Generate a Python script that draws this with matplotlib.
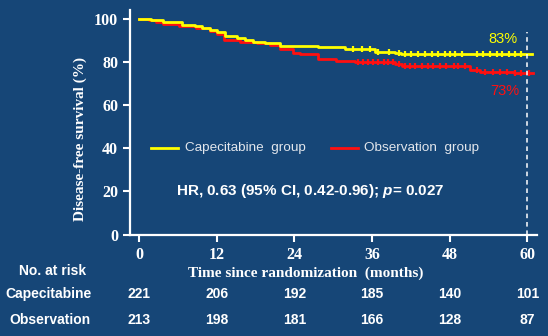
import numpy as np
import matplotlib.pyplot as plt

plt.rcParams['mathtext.fontset'] = 'custom'
plt.rcParams['mathtext.it'] = 'Liberation Sans:bold:italic'
plt.rcParams['mathtext.rm'] = 'Liberation Sans:bold'

# Kaplan-Meier steps (months, % disease-free)
cape_t = [0, 1.9, 3.7, 6.6, 8.6, 9.8, 10.9, 12.0, 13.3, 15.1, 16.3, 17.6, 19.5, 21.8, 27.7, 31.8, 36.4, 39.5, 40.5, 60.7]
cape_s = [100, 99.5, 98.6, 97.2, 96.6, 95.8, 94.9, 93.8, 92.1, 91.0, 90.0, 89.0, 88.6, 87.5, 86.9, 86.1, 84.7, 84.1, 83.8, 83.8]
obs_t = [0, 1.6, 2.6, 3.7, 6.2, 8.8, 10.9, 12.0, 13.2, 15.6, 18.2, 20.2, 21.8, 23.8, 24.8, 27.7, 30.5, 33.3, 39.5, 40.7, 51.1, 52.7, 57.9, 60.9]
obs_s = [100, 99.4, 98.5, 97.7, 96.8, 95.5, 94.1, 93.0, 90.3, 89.3, 88.7, 87.6, 86.0, 84.1, 83.6, 81.5, 80.5, 79.9, 78.8, 78.0, 76.4, 75.4, 74.8, 74.8]

# censoring ticks
cape_cens = [33.1, 34.4, 35.7, 37.0, 38.6, 40.1, 41.1, 42.1, 43.1, 44.2, 45.2, 46.2, 47.3, 48.0,
             48.8, 49.9, 52.2, 53.2, 54.3, 55.3, 56.1, 57.1, 58.1, 59.1]
obs_cens = [33.9, 34.6, 35.4, 36.2, 37.0, 37.8, 38.5, 39.3, 40.1, 41.1, 41.9, 42.6, 43.7, 44.7,
            45.5, 46.5, 47.5, 48.6, 49.3, 50.4, 52.2, 53.5, 54.7, 55.8, 56.8, 58.1, 59.1, 60.2]

risk_times = [0, 12, 24, 36, 48, 60]
risk_cape = [221, 206, 192, 185, 140, 101]
risk_obs = [213, 198, 181, 166, 128, 87]

bg = '#164677'
yellow = '#ffff00'
red = '#ff1010'
serif = 'Liberation Serif'
sans = 'Liberation Sans'

W, H = 548, 336
fig = plt.figure(figsize=(W / 100, H / 100), dpi=100, facecolor=bg)
ax = fig.add_axes([130 / W, 1 - 234.7 / H, 407 / W, 224.7 / H], facecolor=bg)


def step_val(t, s, x):
    idx = np.searchsorted(t, x, side='right') - 1
    return np.asarray(s)[idx]


ax.step(obs_t, obs_s, where='post', color=red, lw=2)
ax.step(cape_t, cape_s, where='post', color=yellow, lw=2)
ax.plot(obs_cens, step_val(obs_t, obs_s, obs_cens), ls='none', marker='|', ms=5, mew=1.6, color=red)
ax.plot(cape_cens, step_val(cape_t, cape_s, cape_cens), ls='none', marker='|', ms=5, mew=1.6, color=yellow)

ax.axvline(60, ymin=0, ymax=0.9, color='white', lw=1.1, dashes=(3, 2.5))

ax.set_xlim(-1.4, 61.5)
ax.set_ylim(0, 104)
ax.set_xticks(risk_times)
ax.set_yticks([0, 20, 40, 60, 80, 100])
for side in ['top', 'right']:
    ax.spines[side].set_visible(False)
for side in ['left', 'bottom']:
    ax.spines[side].set_color('white')
    ax.spines[side].set_linewidth(1.6)
ax.tick_params(colors='white', width=1.5, length=5, labelsize=11.5)
for lab in ax.get_xticklabels() + ax.get_yticklabels():
    lab.set_fontfamily(serif)
    lab.set_fontweight('bold')

# legend drawn by hand, like the original slide
ax.plot([1.9, 6.0], [40, 40], color=yellow, lw=2)
ax.text(7.1, 40, 'Capecitabine  group', color='#e2e6ec', fontsize=9.7, family=sans, va='center')
ax.plot([29.7, 33.8], [40, 40], color=red, lw=2)
ax.text(34.8, 40, 'Observation  group', color='#e2e6ec', fontsize=9.7, family=sans, va='center')

ax.text(5.7, 20, 'HR, 0.63 (95% CI, 0.42-0.96); $p$= 0.027', color='white',
        fontsize=11, family=sans, weight='bold', va='center')

ax.text(56.2, 90.5, '83%', color=yellow, fontsize=10.5, family=sans, ha='center', va='center')
ax.text(56.5, 66.5, '73%', color=red, fontsize=10.5, family=sans, ha='center', va='center')

fig.text(80 / W, 1 - 139 / H, 'Disease-free survival (%)', rotation=90, color='white',
         fontsize=11, family=serif, weight='bold', ha='center', va='center')
fig.text(306 / W, 1 - 273 / H, 'Time since randomization  (months)', color='white',
         fontsize=11, family=serif, weight='bold', ha='center', va='center')

fig.text(53 / W, 1 - 271 / H, 'No. at risk', color='white', fontsize=10, family=sans,
         weight='bold', ha='center', va='center')
fig.text(49 / W, 1 - 294 / H, 'Capecitabine', color='white', fontsize=10, family=sans,
         weight='bold', ha='center', va='center')
fig.text(50 / W, 1 - 320 / H, 'Observation', color='white', fontsize=10, family=sans,
         weight='bold', ha='center', va='center')
for t, a, b in zip(risk_times, risk_cape, risk_obs):
    ax.annotate(str(a), (t, 0), xycoords=('data', 'axes fraction'), xytext=(0, -(294 - 234.7) * 0.72),
                textcoords='offset points', color='white', fontsize=10, family=sans,
                weight='bold', ha='center', va='center')
    ax.annotate(str(b), (t, 0), xycoords=('data', 'axes fraction'), xytext=(0, -(320 - 234.7) * 0.72),
                textcoords='offset points', color='white', fontsize=10, family=sans,
                weight='bold', ha='center', va='center')

fig.savefig('out.png', dpi=100, facecolor=bg)
